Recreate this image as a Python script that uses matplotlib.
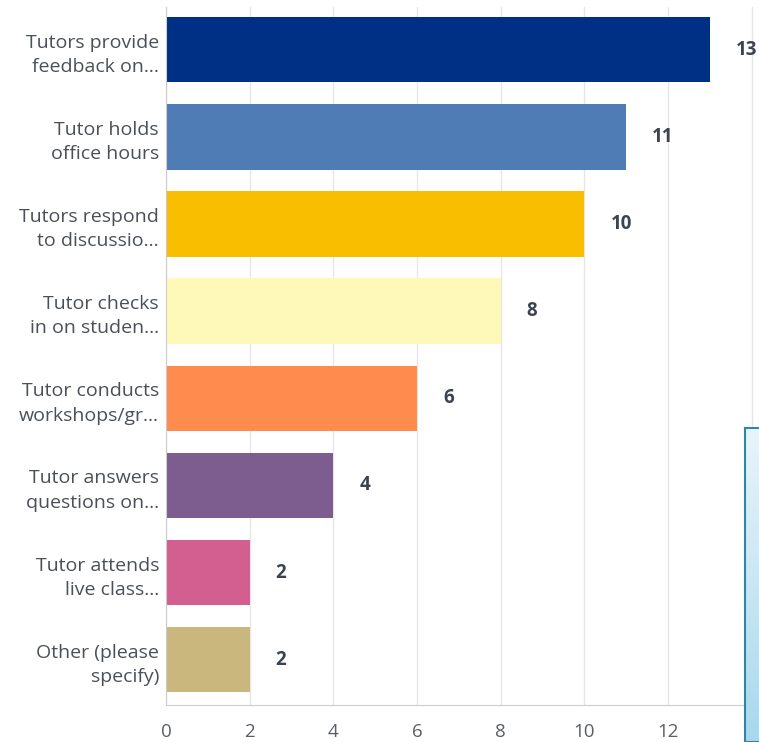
import numpy as np
import matplotlib
matplotlib.use("Agg")
import matplotlib.pyplot as plt

labels = ["Tutors provide\nfeedback on...", "Tutor holds\noffice hours", "Tutors respond\nto discussio...",
          "Tutor checks\nin on studen...", "Tutor conducts\nworkshops/gr...", "Tutor answers\nquestions on...",
          "Tutor attends\nlive class...", "Other (please\nspecify)"]
counts = [13, 11, 10, 8, 6, 4, 2, 2]
colors = ["#002F86", "#507CB6", "#F9BE00", "#FFF9B9", "#FF8B4F", "#7D5D90", "#D25F90", "#C9B77D"]
xticks = [0, 2, 4, 6, 8, 10, 12, 14]

plt.rcParams["font.family"] = ["Open Sans", "DejaVu Sans"]
fig = plt.figure(figsize=(7.59, 7.42), dpi=100)
W, H = 759, 742
ax = fig.add_axes([166 / W, 1 - 705 / H, 592 / W, 698 / H])

y = np.arange(len(counts))
ax.barh(y, counts, height=0.75, color=colors, zorder=2)
for yi, c in zip(y, counts):
    ax.annotate(str(c), (c, yi), xytext=(26, 0), textcoords="offset pixels",
                va="center", ha="left", fontsize=13.5, fontweight="bold", color="#3b4450")

ax.set_xlim(0, 14.15)
ax.set_ylim(7.52, -0.49)
ax.set_xticks(xticks)
ax.set_yticks(y)
ax.set_yticklabels(labels, fontsize=14, color="#4a5058", linespacing=1.45)
ax.tick_params(axis="x", length=0, labelsize=13.5, labelcolor="#5a5f66", pad=13)
ax.tick_params(axis="y", length=0, pad=5)
ax.grid(axis="x", color="#e6e6e6", linewidth=1, zorder=0)
for s in ["top", "right"]:
    ax.spines[s].set_visible(False)
ax.spines["left"].set_color("#cccccc")
ax.spines["bottom"].set_color("#cccccc")

# tooltip box partly visible on the right
tip = fig.add_axes([745 / W, 0, 20 / W, 314 / H])
tip.set_zorder(5)
grad = np.linspace(0, 1, 100).reshape(-1, 1)
tip.imshow(grad, aspect="auto", cmap=matplotlib.colors.LinearSegmentedColormap.from_list("t", ["#e8f4fb", "#a9d8ec"]),
           extent=[0, 1, 0, 1], origin="upper")
tip.set_xticks([])
tip.set_yticks([])
for s in tip.spines.values():
    s.set_color("#2f87a6")
    s.set_linewidth(1.5)

fig.savefig("out.png", dpi=100)
